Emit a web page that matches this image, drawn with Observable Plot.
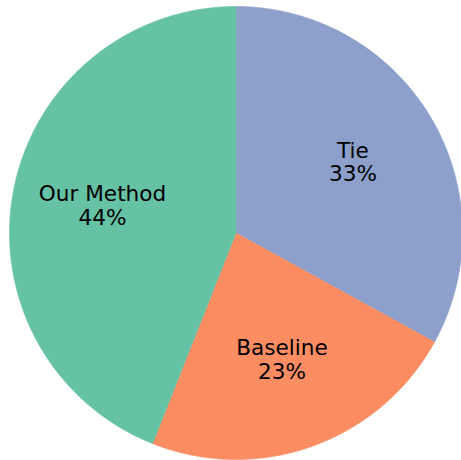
<!DOCTYPE html>
<html>
<head>
<meta charset="utf-8">
<script src="https://cdn.jsdelivr.net/npm/d3@7"></script>
<script src="https://cdn.jsdelivr.net/npm/@observablehq/plot@0.6"></script>
<style>
  html, body { margin: 0; padding: 0; background: #fff; overflow: hidden; }
</style>
</head>
<body>
<div id="chart"></div>
<script>
const categories = ["Tie", "Baseline", "Our Method"];
const shares = [33, 23, 44];
const colors = ["#8da0cb", "#fc8d62", "#66c2a5"];

const total = d3.sum(shares);
// clockwise from 12 o'clock
const pie = d3.pie().sort(null).value(d => d)(shares);

const outline = [];
const labels = [];
pie.forEach((s, i) => {
  const a0 = s.startAngle, a1 = s.endAngle;
  const n = Math.max(2, Math.ceil((a1 - a0) / (Math.PI / 360)));
  outline.push({cat: categories[i], x: 0, y: 0});
  for (let k = 0; k <= n; k++) {
    const a = a0 + (a1 - a0) * k / n;
    outline.push({cat: categories[i], x: Math.sin(a), y: Math.cos(a)});
  }
  outline.push({cat: categories[i], x: 0, y: 0});
  const m = (a0 + a1) / 2;
  labels.push({
    x: 0.6 * Math.sin(m),
    y: 0.6 * Math.cos(m),
    text: `${categories[i]}\n${Math.round(shares[i] / total * 100)}%`
  });
});

const cx = 235.5, cy = 232.5, R = 226.5;
const W = 461, H = 460;

const chart = Plot.plot({
  width: W,
  height: H,
  margin: 0,
  x: {domain: [-1, 1], range: [cx - R, cx + R], axis: null},
  y: {domain: [-1, 1], range: [cy + R, cy - R], axis: null},
  color: {domain: categories, range: colors},
  style: {background: "#fff", fontFamily: "'DejaVu Sans', sans-serif"},
  marks: [
    Plot.line(outline, {x: "x", y: "y", z: "cat", fill: "cat", stroke: "cat", strokeWidth: 0.6, curve: "linear"}),
    Plot.text(labels, {
      x: "x", y: "y", text: "text",
      fontSize: 21.6, lineHeight: 1.11, fill: "#000", dy: -2,
      textAnchor: "middle", lineAnchor: "middle",
      fontFamily: "'DejaVu Sans', sans-serif"
    })
  ]
});
document.getElementById("chart").appendChild(chart);
</script>
</body>
</html>
